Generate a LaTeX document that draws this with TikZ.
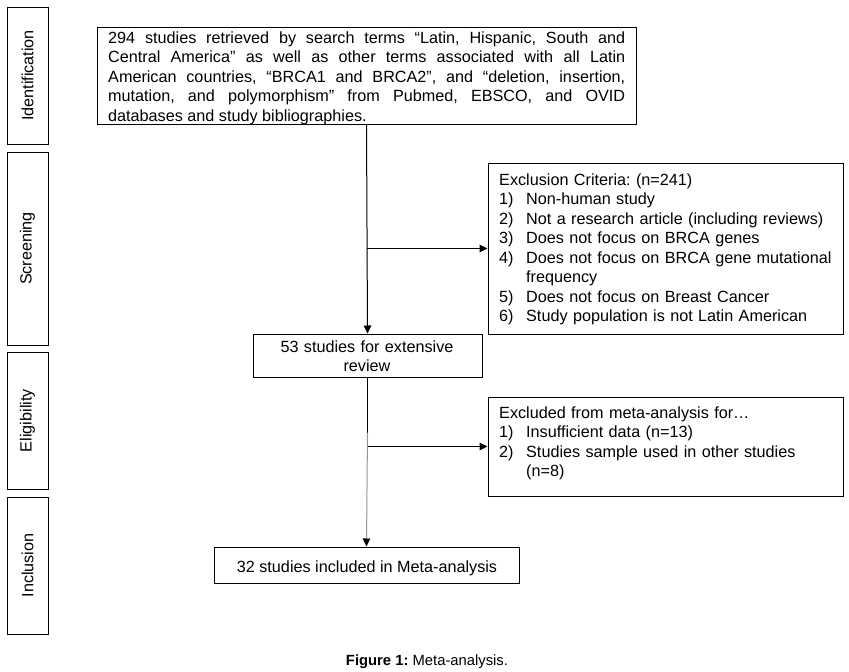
\documentclass[tikz,border=0pt]{standalone}
\usepackage{fontspec}
\setmainfont{Liberation Sans}
\usetikzlibrary{arrows.meta,fit,calc}
\newcommand\itm[2]{\par\noindent\hangindent=27pt\hangafter=1\makebox[27pt][l]{#1}#2}
\definecolor{linegray}{RGB}{150,150,150}
\frenchspacing
\begin{document}
\begin{tikzpicture}[x=1pt,y=-1pt,
  box/.style={draw, line width=1pt, inner sep=0pt},
  txt/.style={inner sep=0pt, font=\fontsize{16.2}{19.5}\selectfont},
  arr/.style={line width=1pt, -{Triangle[length=8pt,width=7.5pt,color=black]}},
  plain/.style={line width=1pt},
]
\useasboundingbox (0,0) rectangle (849,672);
\fill[white] (0,0) rectangle (849,672);

% stage boxes
\node[box, fit={(7,7)(48,144)}] (sid) {};
\node[txt, rotate=90] (lid) at (sid.center) {Identification};
\node[box, fit={(7,152)(48,345)}] (sscr) {};
\node[txt, rotate=90] (lscr) at (sscr.center) {Screening};
\node[box, fit={(7,352)(48,489)}] (selg) {};
\node[txt, rotate=90] (lelg) at (selg.center) {Eligibility};
\node[box, fit={(7,497)(48,634)}] (sinc) {};
\node[txt, rotate=90] (linc) at (sinc.center) {Inclusion};

% flow boxes
\node[box, fit={(97,27)(636,124)}] (btop) {};
\node[txt, anchor=base west, text width=517pt, align=justify] (ttop) at (108,43)
 {\tolerance=9999\hyphenpenalty=10000 294 studies retrieved by search terms “Latin, Hispanic, South and\linebreak Central America” as well as other terms associated with all Latin\linebreak American countries, “BRCA1 and BRCA2”, and “deletion, insertion,\linebreak mutation, and polymorphism” from Pubmed, EBSCO, and OVID\linebreak databases and study bibliographies.};

\node[box, fit={(488,163)(843,334)}] (bexc) {};
\node[txt, anchor=base west, text width=340pt, align=left] (texc) at (499,185)
 {Exclusion Criteria: (n=241)
  \itm{1)}{Non-human study}
  \itm{2)}{Not a research article (including reviews)}
  \itm{3)}{Does not focus on BRCA genes}
  \itm{4)}{Does not focus on BRCA gene mutational\newline frequency}
  \itm{5)}{Does not focus on Breast Cancer}
  \itm{6)}{Study population is not Latin American}\par};

\node[box, fit={(253,334)(482,377)}] (b53) {};
\node[txt, anchor=base, text width=229pt, align=center] (t53) at (367,352)
 {53 studies for extensive\\review};

\node[box, fit={(488,397)(843,496)}] (bmeta) {};
\node[txt, anchor=base west, text width=340pt, align=left] (tmeta) at (499,418)
 {Excluded from meta-analysis for…
  \itm{1)}{Insufficient data (n=13)}
  \itm{2)}{Studies sample used in other studies\newline (n=8)}\par};

\node[box, fit={(214,547)(519,583)}] (b32) {};
\node[txt, anchor=base] (t32) at (367,572) {32 studies included in Meta-analysis};

% caption
\node[inner sep=0pt, anchor=base, font=\fontsize{14.8}{18}\selectfont] (cap) at (427,665)
 {\textbf{Figure 1:} Meta-analysis.};

% connectors
\coordinate (j1) at (btop.south |- bexc.west);
\coordinate (j2) at (b53.south |- bmeta.west);
\draw[arr] (btop.south) -- (b53.north);
\draw[plain, linegray] (j1) -- ($(j1)+(0,17)$);
\draw[arr] (j1) -- (bexc.west);
\draw[plain] (b53.south) -- ($(j2)+(0,-14)$) coordinate (g2);
\draw[arr, linegray] (g2) -- (b32.north);
\draw[arr] (j2) -- (bmeta.west);
\end{tikzpicture}
\end{document}
